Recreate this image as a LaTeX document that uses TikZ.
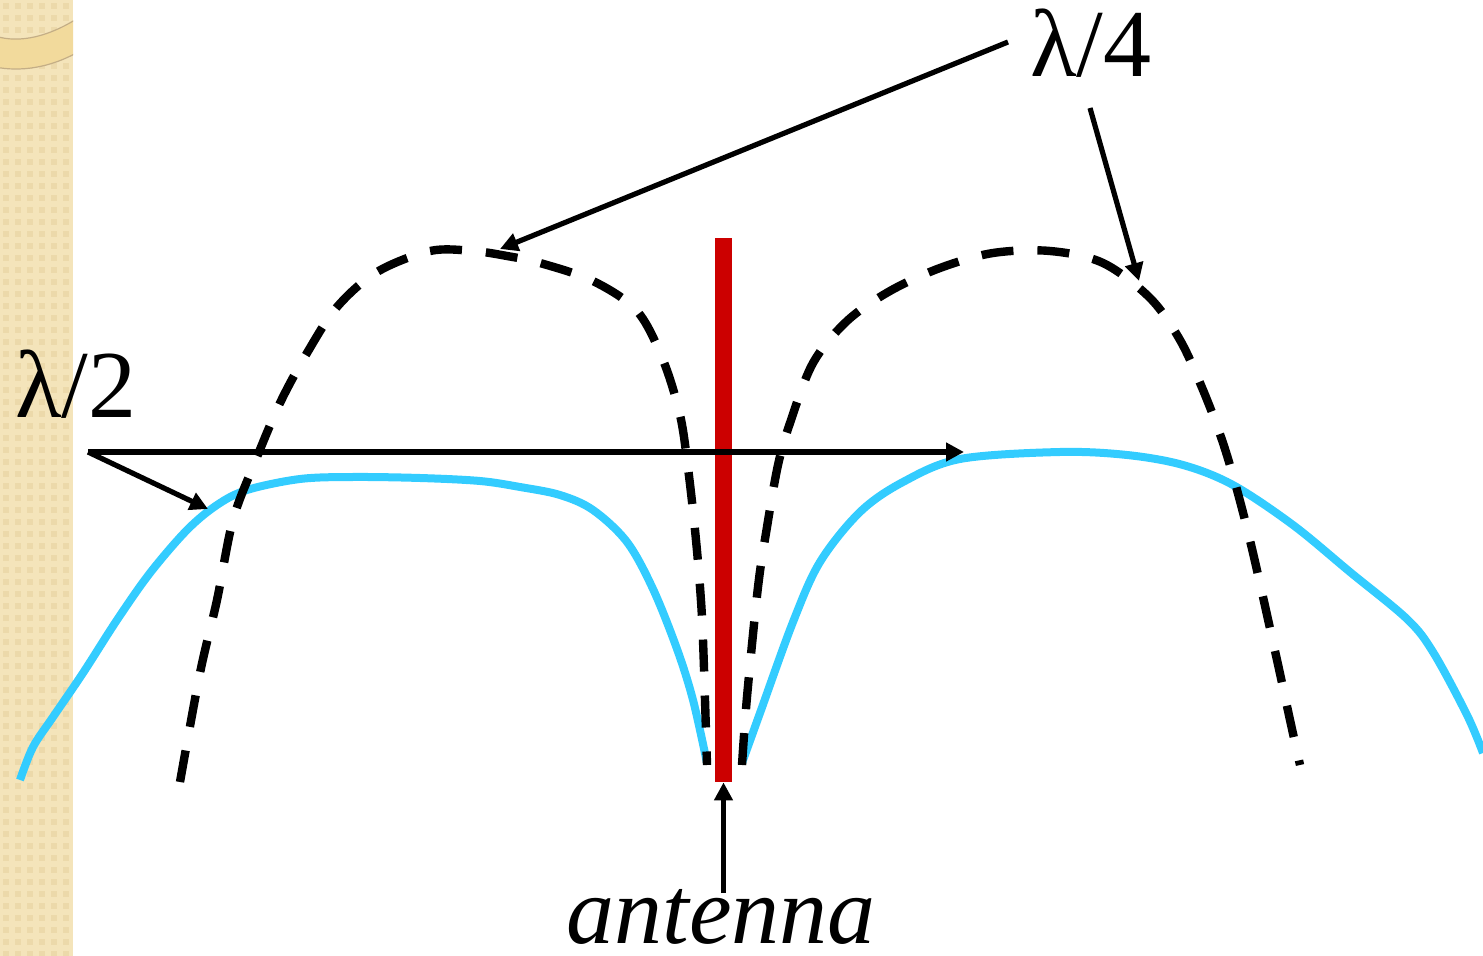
\documentclass[tikz,border=0pt]{standalone}
\usepackage{fontspec}
\setmainfont{Liberation Serif}
\usetikzlibrary{arrows.meta}
\definecolor{wave}{HTML}{33CCFF}
\definecolor{antred}{HTML}{CC0000}
\definecolor{stripbg}{HTML}{F4E4BA}
\definecolor{stripdk}{HTML}{ECD9AA}
\definecolor{bandfill}{HTML}{F2DA9C}
\definecolor{bandedge}{HTML}{C4AE86}
\tikzset{
  lbl/.style={font=\fontsize{48}{48}\selectfont, inner sep=0pt, anchor=base},
  ptr/.style={line width=2.6pt, -{Triangle[length=9pt,width=9pt]}},
  wavecurve/.style={draw=wave, line width=4pt},
  lobe/.style={draw=black, line width=4.2pt, dash pattern=on 16pt off 12pt},
}
\begin{document}
\begin{tikzpicture}[x=0.5pt,y=-0.5pt]
\useasboundingbox (0,0) rectangle (1483,956);
% side strip
\begin{scope}
\clip (0,0) rectangle (73,956);
\fill[stripbg] (0,0) rectangle (73,956);
\foreach \i in {0,...,6}{\foreach \j in {0,...,79}{
  \fill[stripdk] (\i*12+3,\j*12+3) rectangle ++(6,6);
}}
\fill[bandfill,draw=bandedge,line width=0.6pt] (-5,36) .. controls (20,44) and (50,36) .. (78,18) -- (78,52) .. controls (50,68) and (20,72) .. (-5,67) -- cycle;
\end{scope}
% wave curve
\draw[wavecurve] plot[smooth, tension=0.55] coordinates {(20,780) (33,747) (53,717) (83,673) (117,620) (150,573) (187,530) (217,505) (247,490) (300,479) (353,477) (420,478) (480,481) (520,487) (560,495) (593,510) (627,542) (653,589) (677,649) (693,700) (707,763)};
\draw[wavecurve] plot[smooth, tension=0.55] coordinates {(742,763) (760,713) (793,622) (820,562) (860,512) (903,482) (960,459) (1060,452) (1127,455) (1183,465) (1233,485) (1293,525) (1350,572) (1407,619) (1433,652) (1467,715) (1483,753)};
% dashed lobes
\draw[lobe] plot[smooth, tension=0.55] coordinates {(180,782) (200,673) (217,600) (233,520) (255,462) (280,403) (307,353) (337,307) (377,272) (430,251) (473,251) (507,256) (540,263) (593,281) (637,311) (663,360) (680,415) (688,468) (695,530) (700,587) (703,640) (707,765)};
\draw[lobe] plot[smooth, tension=0.55] coordinates {(742,765) (747,697) (758,587) (767,527) (778,465) (790,423) (813,363) (847,321) (890,291) (940,268) (993,253) (1050,251) (1103,263) (1150,298) (1180,340) (1203,390) (1222,440) (1237,490) (1253,553) (1277,660) (1290,720) (1300,765)};
% antenna
\node[fill=antred, inner sep=0pt, minimum width=8.5pt, minimum height=272pt] (ant) at (723.5,510) {};
% labels
\node[lbl] (l4) at (1091,77) {λ/4};
\node[lbl] (l2) at (76,418) {λ/2};
\node[lbl, font=\fontsize{48}{48}\selectfont\itshape] (atext) at (721,943) {antenna};
% arrow ends
\coordinate (l4a) at (1008,42);
\coordinate (l4b) at (1090,108);
\coordinate (lobeL) at (500,249);
\coordinate (lobeR) at (1139,281);
\coordinate (l2t) at (88,452);
\coordinate (spanEnd) at (964,452);
\coordinate (waveL) at (208,509);
\coordinate (atail) at (723.5,893);
\draw[ptr] (l4a) -- (lobeL);
\draw[ptr] (l4b) -- (lobeR);
\draw[ptr] (l2t) -- (spanEnd);
\draw[ptr] (l2t) -- (waveL);
\draw[ptr] (atail) -- (ant.south);
\end{tikzpicture}
\end{document}
